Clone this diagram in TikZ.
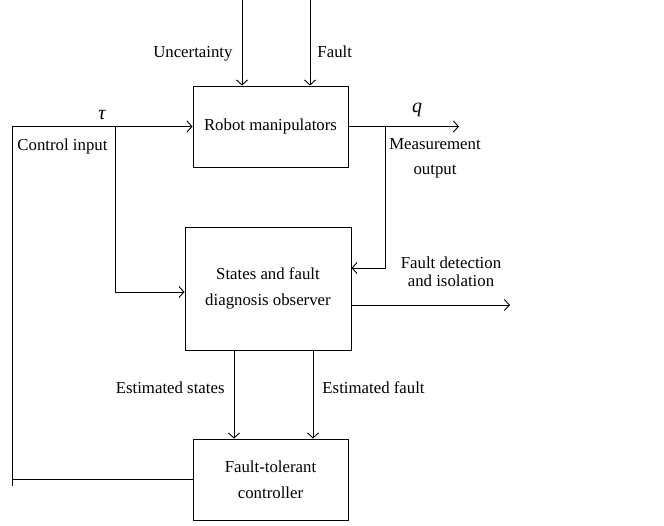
\documentclass[tikz,border=0pt]{standalone}
\usepackage{fontspec}
\setmainfont{Liberation Serif}
\usetikzlibrary{arrows.meta}
\begin{document}
\begin{tikzpicture}[x=1pt,y=-1pt,
  line width=0.9pt,
  txt/.style={font=\fontsize{16.8}{25.5}\selectfont, inner sep=0pt},
  sym/.style={font=\fontsize{20}{24}\selectfont\itshape, inner sep=0pt},
  blk/.style={draw, txt, align=center, minimum width=#1},
  arr/.style={-{Straight Barb[length=5pt,width=11pt]}},
  ]
\useasboundingbox (0,0) rectangle (664,525);
% blocks
\node[blk=155pt, minimum height=81pt] (robot) at (270.5,126.5) {Robot manipulators};
\node[blk=166pt, minimum height=123pt] (obs) at (268,288.5) {States and fault\\diagnosis observer};
\node[blk=155pt, minimum height=81pt] (ctrl) at (270.5,479.5) {Fault-tolerant\\controller};
% inputs from top
\coordinate (u0) at (242,0);
\coordinate (f0) at (310,0);
\draw[arr] (u0) -- (u0 |- robot.north);
\draw[arr] (f0) -- (f0 |- robot.north);
\node[txt, anchor=base east] (lu) at (233,57) {Uncertainty};
\node[txt, anchor=base west] (lf) at (317,57) {Fault};
% control loop
\coordinate (lb) at (12,486);
\coordinate (lt) at (12,126.5);
\coordinate (br) at (115,126.5);
\coordinate (bd) at (115,292);
\draw (ctrl.west) -- (12,479.5);
\draw[arr] (lb) -- (lt) -- (robot.west);
\draw[arr] (br) -- (bd) -- (bd -| obs.west);
\node[sym, anchor=base] (ltau) at (102,119) {τ};
\node[txt, anchor=base west] (lci) at (17,150) {Control input};
% output
\coordinate (qend) at (459,126.5);
\coordinate (mb) at (385,126.5);
\coordinate (md) at (385,268);
\draw[arr] (robot.east) -- (qend);
\draw[arr] (mb) -- (md) -- (md -| obs.east);
\node[sym, anchor=base] (lq) at (417,112) {q};
\node[txt, anchor=base] (lm) at (435,149) {Measurement};
\node[txt, anchor=base] (lm2) at (435,174) {output};
% fault detection
\coordinate (fd) at (obs.east |- 0,305);
\coordinate (fdend) at (510,305);
\draw[arr] (fd) -- (fdend);
\node[txt, anchor=base] (lfd) at (451,268) {Fault detection};
\node[txt, anchor=base] (lfd2) at (451,286) {and isolation};
% estimates
\coordinate (es) at (234,0);
\coordinate (ef) at (313,0);
\draw[arr] (es |- obs.south) -- (es |- ctrl.north);
\draw[arr] (ef |- obs.south) -- (ef |- ctrl.north);
\node[txt, anchor=base east] (les) at (225,393) {Estimated states};
\node[txt, anchor=base west] (lef) at (322,393) {Estimated fault};
\end{tikzpicture}
\end{document}
